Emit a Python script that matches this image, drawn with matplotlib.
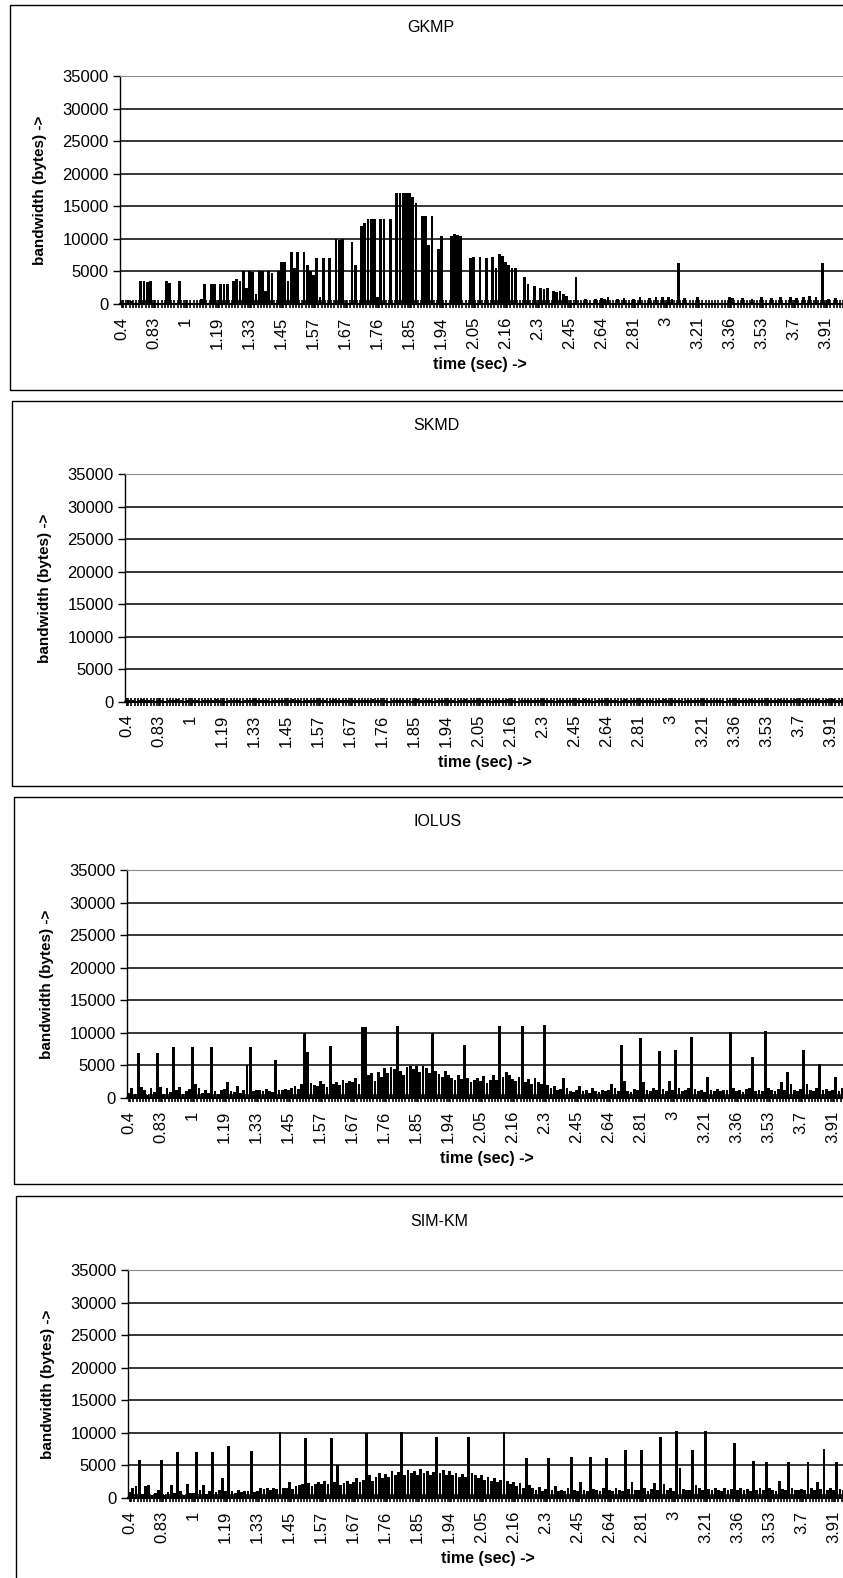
import numpy as np
import matplotlib
matplotlib.use("Agg")
import matplotlib.pyplot as plt
from matplotlib.patches import Rectangle

plt.rcParams["font.family"] = ["Liberation Sans", "DejaVu Sans"]

# category labels shown on the time axis (one every 10 samples)
time_labels = ["0.4", "0.83", "1", "1.19", "1.33", "1.45", "1.57", "1.67", "1.76",
               "1.85", "1.94", "2.05", "2.16", "2.3", "2.45", "2.64", "2.81", "3",
               "3.21", "3.36", "3.53", "3.7", "3.91"]

# bandwidth samples (bytes), 10 per labelled interval
gkmp = [
    0, 0, 600, 500, 0, 0, 3500, 3500, 3400, 3500,
    0, 0, 0, 0, 3500, 3300, 0, 0, 3500, 0,
    0, 0, 0, 0, 0, 700, 3000, 0, 3100, 3000,
    0, 3100, 3000, 3100, 0, 3500, 3800, 3600, 5000, 2500,
    5000, 4900, 1500, 5000, 5000, 2000, 5000, 4800, 0, 5000,
    6500, 6500, 3500, 8000, 5500, 8000, 0, 8000, 6000, 5000,
    4500, 7000, 1000, 7000, 0, 7000, 0, 10000, 9800, 10000,
    0, 0, 9500, 6000, 0, 12000, 12500, 13000, 13000, 13000,
    1000, 13000, 13000, 0, 13000, 0, 17000, 17000, 17000, 17000,
    17000, 16500, 15500, 0, 13500, 13500, 9000, 13500, 0, 8500,
    10500, 0, 0, 10500, 10800, 10600, 10500, 0, 0, 7000,
    7200, 0, 7200, 0, 7100, 0, 7200, 5500, 7600, 7400,
    6500, 6000, 5500, 5600, 0, 0, 4200, 3100, 0, 2800,
    0, 2500, 2300, 2400, 0, 2000, 1800, 2000, 1500, 1200,
    0, 0, 4200, 0, 0, 700, 0, 0, 800, 0,
    900, 800, 1000, 0, 0, 700, 0, 900, 0, 0,
    800, 0, 1000, 0, 0, 900, 0, 1100, 0, 1000,
    0, 1100, 800, 0, 6300, 0, 900, 0, 0, 0,
    1000, 0, 0, 0, 0, 0, 0, 0, 0, 0,
    1100, 900, 0, 0, 900, 0, 0, 800, 0, 0,
    1000, 0, 0, 900, 0, 0, 1000, 0, 0, 1100,
    0, 900, 0, 1000, 0, 1200, 0, 1100, 0, 6300,
    0, 800, 0, 900, 0, 0, 1000, 0, 0, 0,
    0, 0, 0, 0, 0, 0, 0, 0, 0, 0,
]

skmd = [
    300, 250, 350, 200, 300, 400, 250, 300, 350, 200,
    300, 250, 200, 350, 300, 250, 400, 300, 200, 300,
    350, 250, 300, 200, 300, 350, 250, 300, 400, 250,
    300, 200, 350, 300, 250, 300, 200, 350, 300, 250,
    400, 300, 250, 300, 350, 200, 300, 250, 350, 300,
    250, 300, 400, 250, 300, 200, 350, 300, 250, 300,
    300, 350, 250, 200, 300, 400, 300, 250, 350, 300,
    200, 300, 250, 350, 300, 250, 300, 400, 250, 300,
    350, 300, 200, 300, 250, 350, 300, 250, 300, 200,
    300, 400, 250, 300, 350, 300, 200, 250, 300, 350,
    250, 300, 350, 200, 300, 250, 400, 300, 250, 300,
    300, 250, 350, 300, 200, 300, 250, 350, 300, 400,
    250, 300, 200, 350, 300, 250, 300, 350, 250, 300,
    400, 300, 250, 300, 200, 350, 300, 250, 300, 350,
    300, 250, 300, 400, 250, 300, 200, 300, 350, 250,
    300, 350, 250, 300, 200, 300, 400, 250, 300, 350,
    250, 300, 350, 300, 250, 200, 300, 350, 400, 300,
    300, 250, 300, 350, 200, 300, 250, 300, 350, 300,
    400, 300, 250, 300, 350, 250, 300, 200, 300, 350,
    300, 250, 350, 300, 250, 400, 300, 350, 250, 300,
    350, 300, 250, 300, 400, 300, 250, 350, 300, 400,
    300, 350, 400, 300, 250, 350, 400, 300, 350, 400,
    350, 400, 300, 350, 400, 350, 300, 400, 450, 350,
    400, 350, 450, 400, 350, 400, 450, 400, 350, 400,
]

iolus = [
    800, 1500, 600, 6900, 1700, 1200, 500, 1600, 900, 6900,
    1700, 600, 1500, 900, 7800, 1200, 1700, 600, 1000, 1400,
    7800, 2100, 1600, 800, 1300, 700, 7800, 1000, 600, 1200,
    1400, 2400, 1100, 900, 1800, 700, 1200, 5000, 7800, 1000,
    1200, 1300, 1000, 1400, 1100, 900, 5800, 1300, 1200, 1400,
    1300, 1500, 1800, 1400, 2200, 10000, 7000, 2300, 2000, 1800,
    2600, 2200, 1700, 8000, 2100, 2400, 2000, 2800, 2300, 2600,
    2500, 3000, 2200, 10900, 10900, 3500, 3800, 2600, 4000, 3200,
    4600, 3800, 4700, 4500, 11000, 4200, 3500, 4800, 4900, 4400,
    4900, 4000, 4900, 4600, 3800, 10000, 4200, 3700, 3300, 4200,
    3500, 3100, 2800, 3600, 2900, 8100, 3000, 2500, 2800, 3100,
    2600, 3400, 2300, 2700, 3600, 2800, 11000, 3200, 4000, 3500,
    2900, 2600, 3300, 11000, 2500, 2900, 2200, 3000, 2400, 2100,
    11200, 2000, 1500, 1800, 1200, 1400, 3000, 1600, 1100, 900,
    1300, 1800, 1000, 1200, 800, 1500, 1100, 900, 1300, 1000,
    1200, 2200, 1500, 1000, 8100, 2600, 1100, 900, 1400, 1200,
    9200, 2500, 1300, 1000, 1600, 1200, 7200, 1400, 1100, 2600,
    1300, 7300, 1600, 1000, 1200, 1500, 9300, 1400, 1100, 1300,
    900, 3300, 1200, 1000, 1400, 1100, 1200, 1300, 10100, 1500,
    1000, 1200, 900, 1400, 1600, 6300, 1100, 1300, 1000, 10300,
    1500, 1200, 1100, 1400, 2500, 1300, 4000, 2200, 1200, 1000,
    1400, 7300, 2200, 1300, 1100, 1500, 5200, 1200, 1400, 1000,
    1300, 3300, 1100, 1500, 1200, 1000, 1300, 1600, 1100, 1200,
    1400, 1000, 1200, 1300, 1100, 1500, 1000, 1200, 1300, 1100,
]

simkm = [
    900, 1500, 1900, 5800, 600, 1900, 2000, 400, 700, 1200,
    5800, 400, 900, 2000, 800, 7100, 1000, 500, 2200, 700,
    800, 7100, 1200, 2000, 600, 1000, 7100, 900, 1200, 3000,
    1100, 8000, 1000, 800, 1200, 900, 1100, 1000, 7200, 900,
    1000, 1500, 1400, 1500, 1300, 1500, 1400, 10200, 1600, 1500,
    2500, 1400, 1800, 2000, 2100, 9250, 2300, 1800, 2200, 2500,
    2100, 2600, 2200, 9250, 2400, 5000, 2000, 2300, 2600, 2200,
    2400, 3000, 2500, 2800, 10000, 3500, 2600, 3200, 3800, 3000,
    3700, 3300, 4200, 3500, 4000, 10200, 3600, 4300, 3800, 4100,
    3500, 4400, 3900, 4200, 3600, 4000, 9400, 3800, 4300, 3500,
    4100, 3600, 3900, 3200, 3700, 3300, 9300, 3800, 3500, 3000,
    3600, 2800, 3300, 2600, 3000, 2400, 2800, 10200, 2600, 2200,
    2500, 1800, 2300, 1600, 6100, 2000, 1500, 1300, 1700, 1100,
    1400, 6100, 1200, 1800, 1000, 1300, 1100, 1500, 6300, 1200,
    1000, 2400, 1300, 1100, 6300, 1400, 1200, 1000, 1500, 6100,
    1300, 1100, 1600, 1200, 1000, 7400, 1400, 2400, 1200, 1300,
    7400, 1500, 1100, 1400, 2300, 1200, 9400, 2200, 1300, 1500,
    1100, 10300, 4600, 1400, 1200, 1300, 7400, 2000, 1500, 1200,
    10300, 1400, 1200, 1600, 1300, 1100, 1500, 1200, 1400, 8400,
    1300, 1500, 1200, 1400, 1100, 5700, 1300, 1500, 1200, 5500,
    1600, 1300, 1100, 2600, 1400, 1200, 5500, 1500, 1300, 1200,
    1400, 1200, 5500, 1600, 1300, 2500, 1400, 7500, 1200, 1500,
    1300, 5500, 1400, 1200, 1500, 1300, 1100, 1400, 1600, 1200,
    1300, 1500, 1200, 1400, 1100, 1300, 1500, 1200, 1400, 1300,
]

W, H = 843, 1578
fig = plt.figure(figsize=(W / 100, H / 100), dpi=100)

# (title, data, axes left px, axes bottom px, frame left px, frame top px, frame bottom px)
panels = [
    ("GKMP", gkmp, 120, 304, 10, 5, 390),
    ("SKMD", skmd, 125, 702, 12, 401, 786),
    ("IOLUS", iolus, 127, 1098, 14, 797, 1184),
    ("SIM-KM", simkm, 128, 1498, 16, 1196, 1600),
]
cat_w = 3.2      # px per category
ax_h = 228       # px for 0..35000

for title, vals, left, bottom, fx, fy0, fy1 in panels:
    n = len(vals)
    fig.add_artist(Rectangle((fx / W, 1 - fy1 / H), (W + 20 - fx) / W, (fy1 - fy0) / H,
                             transform=fig.transFigure, fill=False, ec="black", lw=1.0))
    ax = fig.add_axes([left / W, 1 - bottom / H, n * cat_w / W, ax_h / H])
    x = np.arange(n)
    ax.bar(x, vals, width=0.88, color="black", zorder=3)
    ax.set_xlim(-0.5, n - 0.5)
    ax.set_ylim(0, 35000)
    ax.set_yticks(range(0, 35001, 5000))
    ax.tick_params(axis="y", labelsize=12, length=5, width=1, pad=3)
    ax.yaxis.grid(True, color="black", lw=1.1)
    ax.set_axisbelow(True)
    ax.set_xticks(np.arange(len(time_labels)) * 10)
    ax.set_xticklabels(time_labels, rotation=90, va="top", ha="center", fontsize=12)
    ax.set_xticks(np.arange(n) + 0.5, minor=True)
    ax.tick_params(axis="x", which="major", length=6, width=1.2, direction="inout", pad=6)
    ax.tick_params(axis="x", which="minor", length=6, width=1.2, direction="inout")
    ax.spines["top"].set_color("0.55")
    ax.spines["top"].set_linestyle((0, (1, 1)))
    ax.spines["right"].set_visible(False)
    ax.spines["bottom"].set_linewidth(1.5)
    ax.spines["left"].set_linewidth(1.0)

    top = bottom - ax_h
    fig.text((left + 311) / W, 1 - (top - 49) / H, title, ha="center", va="center",
             fontsize=11.5)
    fig.text((left + 360) / W, 1 - (bottom + 60) / H, "time (sec) ->", ha="center",
             va="center", fontsize=11.5, fontweight="bold")
    fig.text((left - 80) / W, 1 - (bottom - ax_h / 2) / H, "bandwidth (bytes) ->",
             ha="center", va="center", rotation=90, fontsize=11, fontweight="bold")

fig.savefig("out.png", dpi=100)
